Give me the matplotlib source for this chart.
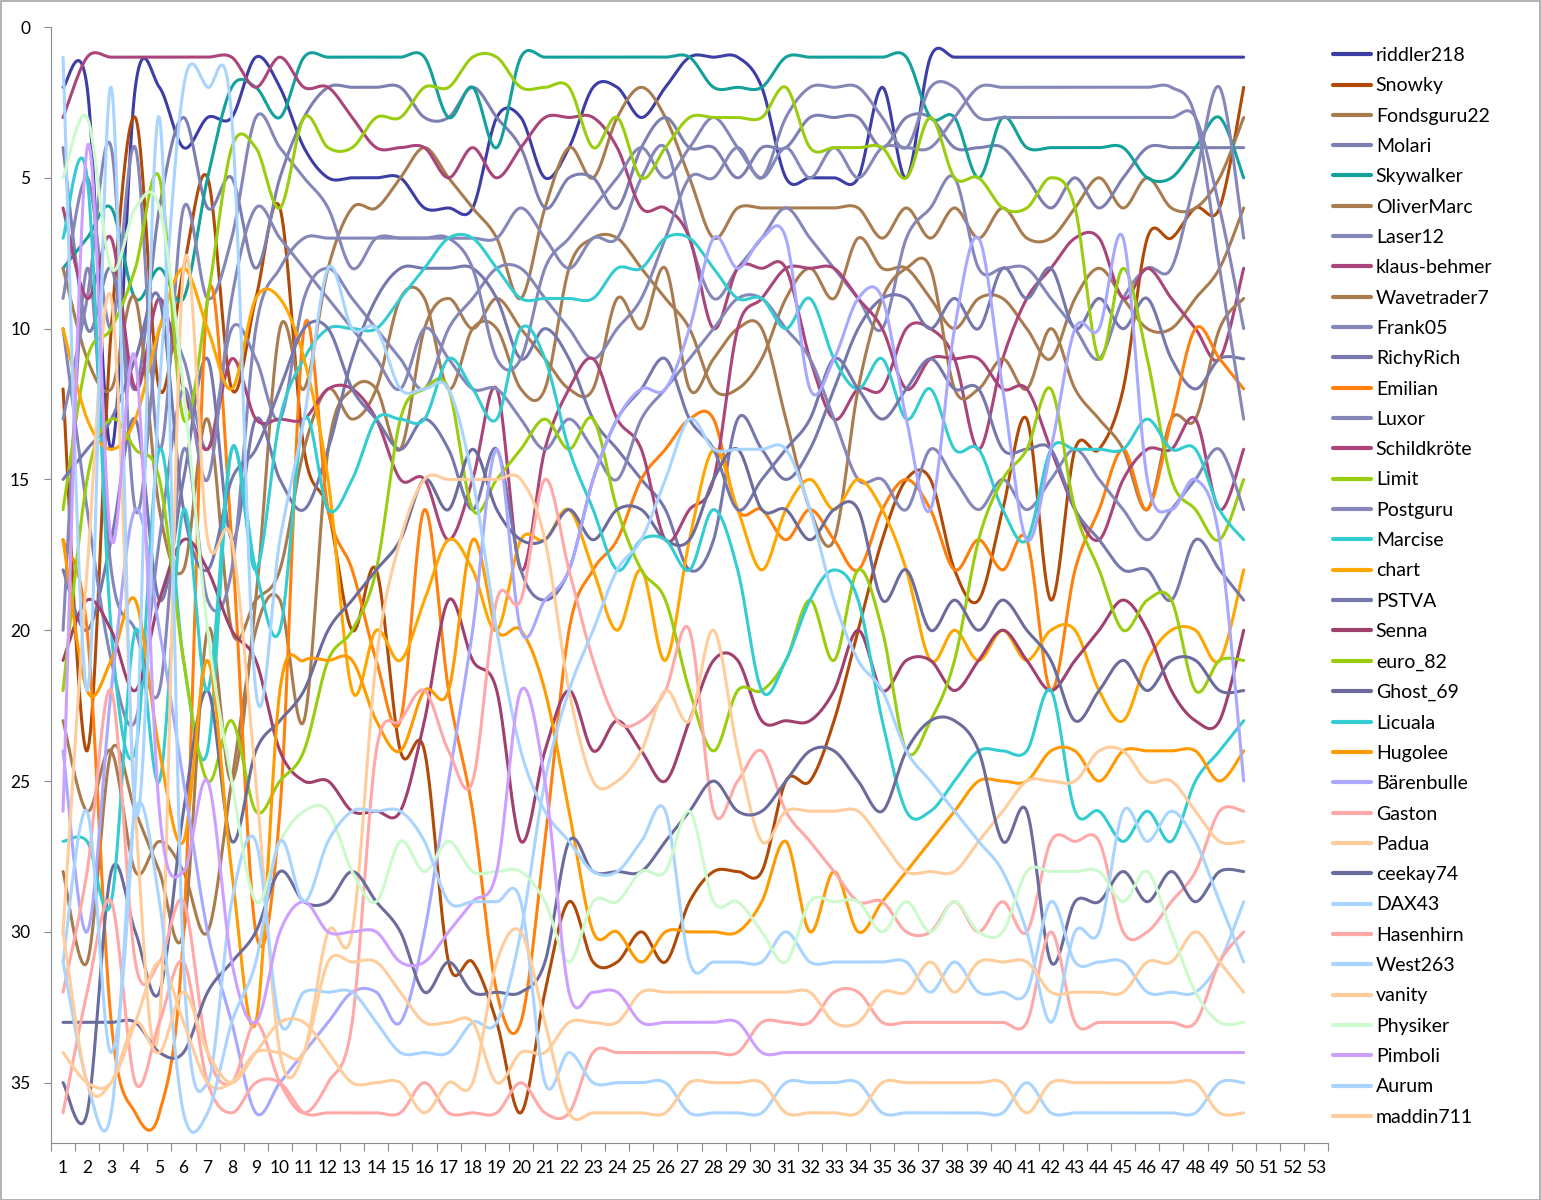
import numpy as np
import matplotlib
matplotlib.use("Agg")
import matplotlib.pyplot as plt
from matplotlib.patches import Rectangle

plt.rcParams['font.family'] = ['Lato', 'DejaVu Sans']

rounds = list(range(1, 51))
x_tick_labels = [str(i) for i in range(1, 54)]

names = ["riddler218", "Snowky", "Fondsguru22", "Molari", "Skywalker", "OliverMarc",
         "Laser12", "klaus-behmer", "Wavetrader7", "Frank05", "RichyRich", "Emilian",
         "Luxor", "Schildkröte", "Limit", "Postguru", "Marcise", "chart", "PSTVA",
         "Senna", "euro_82", "Ghost_69", "Licuala", "Hugolee", "Bärenbulle", "Gaston",
         "Padua", "ceekay74", "DAX43", "Hasenhirn", "West263", "vanity", "Physiker",
         "Pimboli", "Aurum", "maddin711"]

riddler218 = [2,2,14,2,2,4,3,3,1,2, 4,5,5,5,5,6,6,6,3,3, 5,4,2,2,3,2,1,1,1,2, 5,5,5,5,2,5,1,1,1,1, 1,1,1,1,1,1,1,1,1,1]
Snowky = [12,24,10,3,12,8,5,12,9,6, 14,16,20,18,24,24,31,31,33,36, 32,29,31,31,30,31,29,28,28,28, 25,25,23,20,17,15,15,18,19,16, 13,19,14,14,12,7,7,6,6,2]
Fondsguru22 = [28,31,24,26,28,30,20,25,19,10, 12,8,6,6,5,4,5,6,7,9, 6,4,5,3,2,3,5,7,6,6, 6,6,6,6,7,6,7,6,7,6, 7,7,6,5,6,5,6,6,5,3]
Molari = [4,10,8,12,6,3,6,5,8,5, 3,2,2,2,2,3,3,2,3,4, 6,5,5,6,4,3,4,4,5,4, 4,3,3,3,4,3,3,4,4,4, 5,6,5,6,5,4,4,4,4,4]
Skywalker = [8,7,6,9,8,9,5,2,2,3, 1,1,1,1,1,1,3,2,4,1, 1,1,1,1,1,1,1,2,2,2, 1,1,1,1,1,1,3,3,5,3, 4,4,4,4,4,5,5,4,3,5]
OliverMarc = [8,11,12,9,16,18,13,20,19,18, 14,12,13,12,9,9,12,10,10,12, 12,8,7,7,8,9,10,12,12,11, 9,8,9,7,8,8,9,10,9,9, 10,11,9,8,9,10,10,9,8,6]
Laser12 = [9,5,10,4,14,6,9,7,3,4, 5,6,8,7,7,7,7,7,7,6, 7,8,7,7,5,4,7,9,8,7, 6,7,8,9,10,7,6,5,8,8, 8,9,10,11,9,8,8,5,2,7]
klaus_behmer = [3,1,1,1,1,1,1,1,2,1, 2,2,3,4,4,4,5,4,5,4, 3,3,3,4,6,6,7,10,8,8, 8,11,13,12,12,10,10,11,14,11, 9,8,7,7,9,8,9,10,11,8]
Wavetrader7 = [23,26,24,28,27,28,30,25,20,19, 23,14,12,12,14,10,9,10,9,10, 11,12,12,9,10,8,12,11,10,10, 13,16,17,12,9,8,8,12,12,11, 12,10,12,13,14,16,13,13,10,9]
Frank05 = [13,9,4,16,10,11,14,10,11,13, 9,8,9,10,11,12,10,9,8,8, 9,10,11,10,9,7,5,5,4,5, 3,2,2,2,3,4,2,2,3,3, 3,3,3,3,3,3,3,3,6,10]
RichyRich = [18,20,17,13,19,15,11,17,13,15, 16,14,11,9,8,8,8,8,9,11, 10,11,13,14,15,16,18,17,13,14, 15,14,12,10,9,9,10,9,10,8, 9,8,10,9,10,9,11,12,11,11]
Emilian = [17,20,33,36,36,30,9,17,30,26, 10,16,18,21,23,16,22,26,32,33, 27,20,18,17,15,14,13,13,16,16, 17,16,17,18,16,15,16,18,17,18, 17,22,18,16,14,16,13,10,11,12]
Luxor = [20,8,18,20,22,14,19,18,10,8, 7,7,7,7,7,7,7,8,11,11, 8,7,6,5,4,5,4,3,4,5, 4,5,4,5,4,4,4,3,2,2, 2,2,2,2,2,2,2,3,8,13]
Schildkroete = [6,9,7,12,9,12,14,11,13,13, 13,12,12,13,15,15,17,15,12,18, 14,12,11,13,14,17,16,15,10,9, 8,8,8,9,10,12,11,11,11,12, 12,14,16,17,15,14,14,13,16,14]
Limit = [16,11,10,8,5,13,9,4,4,6, 3,4,4,3,3,2,2,1,1,2, 2,2,4,3,5,4,3,3,3,3, 2,4,4,4,4,5,3,5,5,6, 6,5,6,11,8,11,15,16,17,15]
Postguru = [10,16,21,23,17,12,15,9,6,7, 8,9,10,11,12,10,11,12,12,13, 14,13,14,15,13,12,11,10,9,9, 10,11,13,15,15,16,14,15,16,15, 16,15,14,15,16,17,16,15,14,16]
Marcise = [7,5,20,24,14,21,24,14,18,13, 11,10,10,10,9,8,7,7,8,9, 9,9,9,8,8,7,7,8,9,9, 10,9,11,12,11,13,12,14,14,16, 17,14,14,14,14,13,14,14,16,17]
chart = [10,13,14,13,10,8,10,12,9,9, 11,15,22,20,21,19,17,18,20,17, 17,16,18,20,18,21,17,14,16,18, 16,15,16,15,16,18,21,20,21,20, 21,20,20,22,23,21,20,20,21,18]
PSTVA = [15,14,13,11,9,16,18,15,14,12, 10,10,12,13,14,13,14,16,14,18, 19,18,15,13,12,11,13,14,16,15, 14,13,11,12,13,12,11,12,12,14, 14,14,16,17,18,18,19,17,18,19]
Senna = [21,19,20,22,19,17,18,20,21,24, 25,25,26,26,26,23,19,21,22,27, 24,22,24,23,24,25,23,21,21,23, 23,23,22,20,22,21,21,22,21,20, 21,22,21,20,19,20,22,23,23,20]
euro_82 = [22,15,13,14,15,21,25,23,26,25, 24,21,20,18,13,12,12,16,15,14, 13,14,13,16,18,19,22,24,22,22, 21,19,21,18,20,24,23,21,17,15, 14,12,16,18,20,19,19,22,21,21]
Ghost_69 = [35,36,28,30,32,26,22,27,24,23, 22,20,19,18,17,15,16,14,16,17, 17,16,17,16,16,17,17,15,14,16, 16,17,16,16,19,18,20,19,20,19, 20,21,23,22,21,22,21,21,22,22]
Licuala = [27,27,29,20,25,16,22,14,18,20, 13,16,15,13,13,13,11,12,13,10, 11,14,16,18,17,17,18,16,18,22, 21,19,18,19,23,26,26,25,24,24, 24,22,26,26,27,26,27,25,24,23]
Hugolee = [17,22,21,19,24,27,21,28,33,22, 21,21,21,23,24,22,22,17,20,20, 22,26,30,30,31,30,30,30,30,29, 27,30,28,30,29,28,27,26,25,25, 25,24,24,25,24,24,24,24,25,24]
Baerenbulle = [24,30,22,16,20,25,30,33,36,35, 34,33,32,32,33,30,25,20,14,20, 19,18,15,13,12,12,10,7,8,7, 7,12,11,9,9,13,16,10,7,12, 17,14,10,10,7,15,16,15,17,25]
Gaston = [32,28,22,31,31,29,34,35,33,35, 36,35,33,24,23,22,24,25,19,19, 15,18,21,23,23,22,20,26,25,24, 26,27,28,29,29,30,30,29,30,29, 30,27,27,27,30,30,29,28,26,26]
Padua = [30,18,9,26,33,8,17,17,25,34, 34,30,30,21,17,15,15,15,15,15, 17,22,25,25,24,22,23,20,24,27, 26,26,26,26,27,28,28,28,27,26, 25,25,25,24,24,25,25,26,27,27]
ceekay74 = [33,33,33,33,34,34,32,31,30,28, 29,29,28,29,30,32,31,32,32,32, 31,27,28,28,28,27,26,25,26,26, 25,24,24,25,26,24,23,23,24,27, 26,31,29,29,28,29,28,29,28,28]
DAX43 = [1,22,2,26,12,2,2,3,22,17, 13,8,10,10,12,12,12,15,20,24, 26,27,28,28,27,26,31,31,31,31, 30,31,31,31,31,31,32,31,32,32, 32,29,31,31,31,32,32,32,31,29]
Hasenhirn = [36,32,29,35,33,31,35,36,35,35, 36,36,36,36,36,35,36,36,36,35, 36,36,34,34,34,34,34,34,34,33, 33,33,32,32,33,33,33,33,33,33, 33,30,33,33,33,33,33,33,31,30]
West263 = [31,26,34,25,3,31,35,29,27,33, 32,32,32,33,34,34,34,33,33,30, 25,22,20,18,17,15,13,14,14,14, 14,16,19,21,22,24,25,26,27,28, 30,33,30,30,26,27,26,27,29,31]
vanity = [34,35,35,33,31,33,35,35,34,34, 34,31,31,31,32,33,33,33,35,34, 34,33,33,33,32,32,32,32,32,32, 32,32,33,33,32,32,31,32,31,31, 31,32,32,32,32,31,31,30,31,32]
Physiker = [5,3,8,6,6,12,20,25,29,27, 26,26,28,29,27,28,27,28,28,28, 29,31,29,29,28,28,26,29,29,30, 31,29,29,29,30,29,30,29,30,30, 28,28,28,28,29,28,30,32,33,33]
Pimboli = [26,4,17,11,26,28,25,31,33,30, 29,30,30,30,31,31,30,29,28,22, 25,32,32,32,33,33,33,33,33,34, 34,34,34,34,34,34,34,34,34,34, 34,34,34,34,34,34,34,34,34,34]
Aurum = [31,35,36,26,29,36,36,33,31,27, 29,27,26,26,26,27,29,29,29,29, 35,34,35,35,35,35,36,36,36,36, 35,35,35,35,36,36,36,36,36,36, 35,36,36,36,36,36,36,36,35,35]
maddin711 = [30,35,35,33,34,32,34,35,34,33, 33,34,35,35,35,36,35,35,31,30, 33,36,36,36,36,36,35,35,35,35, 36,36,36,36,35,35,35,35,35,35, 36,35,35,35,35,35,35,35,36,36]

series = [riddler218, Snowky, Fondsguru22, Molari, Skywalker, OliverMarc, Laser12,
          klaus_behmer, Wavetrader7, Frank05, RichyRich, Emilian, Luxor, Schildkroete,
          Limit, Postguru, Marcise, chart, PSTVA, Senna, euro_82, Ghost_69, Licuala,
          Hugolee, Baerenbulle, Gaston, Padua, ceekay74, DAX43, Hasenhirn, West263,
          vanity, Physiker, Pimboli, Aurum, maddin711]

colors = ["#3D3DA6", "#B04A08", "#A97C50", "#7C7FB0", "#14A19C", "#A97C50",
          "#8587B9", "#A9457A", "#A97C50", "#8587B9", "#7577AD", "#FF800E",
          "#8587B9", "#A9457A", "#9ACD0F", "#8587B9", "#33CCD0", "#FFA600",
          "#7577AD", "#A0406E", "#9ACD0F", "#6B6C9C", "#33CCD0", "#FF9A00",
          "#A8A8FF", "#FFA8A8", "#FFCC9C", "#6B6C9C", "#A8D4FF", "#FFA8A8",
          "#A8D4FF", "#FFCC9C", "#CCFACC", "#CDA0FF", "#A8D4FF", "#FFCC9C"]


def smooth(xs, ys, n=24):
    P = np.column_stack([xs, ys]).astype(float)
    E = np.vstack([P[0], P, P[-1]])
    t = np.linspace(0, 1, n, endpoint=False)[:, None]
    out = []
    for i in range(len(P) - 1):
        p0, p1, p2, p3 = E[i], E[i + 1], E[i + 2], E[i + 3]
        c1 = p1 + (p2 - p0) / 6.0
        c2 = p2 - (p3 - p1) / 6.0
        out.append((1 - t) ** 3 * p1 + 3 * (1 - t) ** 2 * t * c1
                   + 3 * (1 - t) * t ** 2 * c2 + t ** 3 * p2)
    out.append(P[-1:])
    return np.vstack(out)


W, H = 1541, 1200
fig = plt.figure(figsize=(W / 100, H / 100), dpi=100)
ax = fig.add_axes([51 / W, 1 - 1143 / H, (1328 - 51) / W, (1143 - 27) / H])

handles = []
for name, vals, col in zip(names, series, colors):
    pts = smooth(rounds[:len(vals)], vals)
    ln, = ax.plot(pts[:, 0], pts[:, 1], color=col, lw=2.2, solid_capstyle='round',
                  label=name)
    handles.append(ln)

ax.set_xlim(0.5, 53.5)
ax.set_ylim(37, 0)
ax.set_xticks(range(1, 54))
ax.set_xticklabels(x_tick_labels, fontsize=12.5)
ax.set_xticks(np.arange(0.5, 54.0, 1.0), minor=True)
ax.tick_params(axis='x', which='major', length=0, pad=12)
ax.tick_params(axis='x', which='minor', length=6, width=0.8, color='#8a8a8a', direction='out')
ax.set_yticks(range(0, 36, 5))
ax.tick_params(axis='y', which='major', length=5, width=0.8, color='#8a8a8a',
               direction='out', labelsize=12.5, pad=10)
for s in ['top', 'right']:
    ax.spines[s].set_visible(False)
for s in ['left', 'bottom']:
    ax.spines[s].set_color('#8a8a8a')
    ax.spines[s].set_linewidth(0.8)

leg = ax.legend(handles=handles, loc='upper left',
                bbox_to_anchor=(1333 / W, 1 - 47 / H), bbox_transform=fig.transFigure,
                frameon=False, fontsize=14, handlelength=1.95, handletextpad=0.25,
                labelspacing=0.685, borderaxespad=0, borderpad=0)
for lh in leg.get_lines():
    lh.set_linewidth(3)

fig.patches.append(Rectangle((0.5 / W, 0.5 / H), 1 - 1.5 / W, 1 - 1.5 / H,
                             transform=fig.transFigure, fill=False,
                             edgecolor='#a6a6a6', lw=1.2))

bad = [n for n, v in zip(names, series) if len(v) != 50]
if bad:
    raise SystemExit("bad lengths: " + ", ".join(bad))

fig.savefig("out.png", dpi=100)
